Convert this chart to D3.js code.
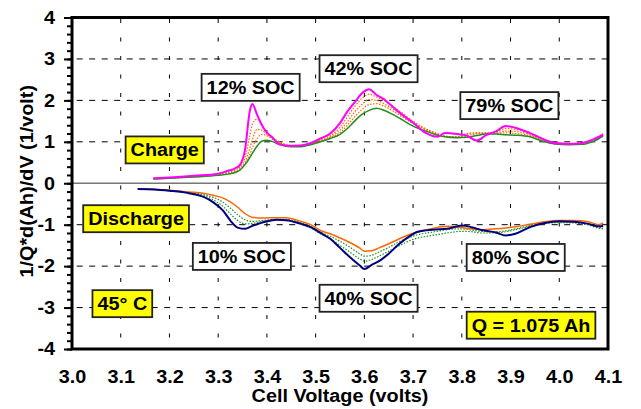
<!DOCTYPE html>
<html>
<head>
<meta charset="utf-8">
<script src="https://cdn.jsdelivr.net/npm/d3@7"></script>
<style>
  body { margin: 0; background: #fff; }
  svg { display: block; font-family: Arial, "Liberation Sans", sans-serif; }
  text { font-weight: bold; fill: #000; }
</style>
</head>
<body>
<div id="chart"></div>
<script>
// charge sweep, voltages (V)
const chargeV = [3.167, 3.2, 3.25, 3.3, 3.32, 3.335, 3.345, 3.355, 3.365, 3.37, 3.38, 3.39, 3.4, 3.41, 3.425,
  3.45, 3.47, 3.49, 3.51, 3.53, 3.55, 3.565, 3.58, 3.595, 3.61, 3.625, 3.64, 3.655, 3.675, 3.7, 3.725,
  3.75, 3.765, 3.79, 3.81, 3.83, 3.85, 3.87, 3.89, 3.91, 3.94, 3.97, 3.99, 4.02, 4.05, 4.07, 4.09];

// charge dQ/dV curves (1/volt)
const chargeRun1 = [0.12, 0.14, 0.18, 0.23, 0.30, 0.36, 0.45, 0.80, 1.75, 1.91, 1.65, 1.40, 1.22, 1.12, 0.94,
  0.90, 0.91, 0.97, 1.08, 1.20, 1.45, 1.73, 1.95, 2.17, 2.27, 2.13, 2.03, 1.88, 1.68, 1.46, 1.22,
  1.12, 1.21, 1.19, 1.15, 1.03, 1.16, 1.25, 1.38, 1.34, 1.21, 1.05, 0.97, 0.95, 0.98, 1.06, 1.17];
const chargeRun2 = [0.11, 0.13, 0.17, 0.22, 0.27, 0.32, 0.40, 0.62, 1.15, 1.42, 1.55, 1.38, 1.22, 1.12, 1.00,
  0.92, 0.92, 0.98, 1.06, 1.15, 1.35, 1.60, 1.85, 2.05, 2.15, 2.08, 2.00, 1.88, 1.72, 1.50, 1.32,
  1.20, 1.14, 1.12, 1.20, 1.22, 1.20, 1.24, 1.32, 1.30, 1.22, 1.05, 0.98, 0.96, 0.99, 1.07, 1.20];
const chargeRun3 = [0.11, 0.12, 0.16, 0.21, 0.25, 0.29, 0.36, 0.52, 0.85, 1.05, 1.30, 1.28, 1.18, 1.10, 0.98,
  0.90, 0.90, 0.96, 1.03, 1.12, 1.28, 1.48, 1.72, 1.90, 2.02, 2.00, 1.92, 1.82, 1.66, 1.46, 1.30,
  1.18, 1.13, 1.12, 1.18, 1.20, 1.22, 1.22, 1.26, 1.25, 1.18, 1.03, 0.97, 0.95, 0.97, 1.05, 1.18];
const chargeRun4 = [0.10, 0.12, 0.16, 0.20, 0.23, 0.27, 0.33, 0.47, 0.70, 0.85, 1.08, 1.18, 1.15, 1.07, 0.97,
  0.89, 0.89, 0.95, 1.02, 1.10, 1.22, 1.40, 1.60, 1.78, 1.90, 1.92, 1.86, 1.77, 1.62, 1.44, 1.30,
  1.18, 1.13, 1.11, 1.15, 1.19, 1.21, 1.20, 1.22, 1.20, 1.15, 1.02, 0.96, 0.94, 0.96, 1.04, 1.17];
const chargeRun5 = [0.10, 0.12, 0.15, 0.19, 0.22, 0.26, 0.32, 0.45, 0.62, 0.72, 0.90, 1.02, 1.04, 1.01, 0.94,
  0.88, 0.88, 0.93, 1.00, 1.08, 1.18, 1.32, 1.50, 1.66, 1.76, 1.81, 1.76, 1.68, 1.55, 1.38, 1.26,
  1.16, 1.12, 1.10, 1.11, 1.15, 1.19, 1.19, 1.17, 1.16, 1.12, 1.00, 0.95, 0.93, 0.94, 1.01, 1.14];

// discharge sweep, voltages (V)
const dischargeV = [3.135, 3.17, 3.2, 3.24, 3.27, 3.29, 3.31, 3.325, 3.34, 3.355, 3.37, 3.39, 3.42, 3.44,
  3.47, 3.49, 3.51, 3.53, 3.55, 3.57, 3.59, 3.6, 3.615, 3.63, 3.65, 3.67, 3.69, 3.71, 3.74, 3.77,
  3.8, 3.82, 3.84, 3.87, 3.89, 3.91, 3.94, 3.97, 4.0, 4.03, 4.06, 4.08, 4.09];

// discharge dQ/dV curves (1/volt)
const dischargeRun1 = [-0.14, -0.15, -0.18, -0.24, -0.33, -0.46, -0.66, -0.90, -1.07, -1.10, -1.03, -0.95, -0.88, -0.89,
  -0.98, -1.06, -1.20, -1.34, -1.56, -1.78, -1.98, -2.07, -1.97, -1.88, -1.70, -1.48, -1.30, -1.17, -1.12, -1.10,
  -1.02, -1.06, -1.13, -1.19, -1.26, -1.22, -1.06, -0.96, -0.92, -0.93, -0.98, -1.04, -1.03];
const dischargeRun2 = [-0.14, -0.15, -0.18, -0.23, -0.30, -0.40, -0.56, -0.74, -0.90, -0.98, -0.97, -0.92, -0.89, -0.90,
  -0.98, -1.08, -1.22, -1.34, -1.50, -1.66, -1.82, -1.88, -1.84, -1.76, -1.64, -1.52, -1.40, -1.32, -1.26, -1.20,
  -1.16, -1.17, -1.20, -1.20, -1.17, -1.12, -1.04, -0.97, -0.95, -0.96, -1.01, -1.08, -1.10];
const dischargeRun3 = [-0.14, -0.15, -0.17, -0.22, -0.27, -0.34, -0.46, -0.60, -0.76, -0.88, -0.92, -0.90, -0.87, -0.87,
  -0.95, -1.04, -1.18, -1.28, -1.40, -1.54, -1.70, -1.76, -1.74, -1.66, -1.55, -1.42, -1.32, -1.24, -1.18, -1.12,
  -1.10, -1.13, -1.16, -1.17, -1.15, -1.10, -1.02, -0.95, -0.93, -0.94, -0.98, -1.06, -1.08];
const dischargeRun4 = [-0.14, -0.15, -0.17, -0.21, -0.24, -0.29, -0.36, -0.45, -0.58, -0.73, -0.82, -0.84, -0.83, -0.83,
  -0.92, -1.00, -1.14, -1.22, -1.32, -1.43, -1.56, -1.64, -1.63, -1.56, -1.46, -1.35, -1.25, -1.17, -1.09, -1.04,
  -1.07, -1.10, -1.12, -1.10, -1.08, -1.05, -0.99, -0.93, -0.90, -0.90, -0.93, -1.00, -0.96];

// axis ticks
const xTicks = [3.0, 3.1, 3.2, 3.3, 3.4, 3.5, 3.6, 3.7, 3.8, 3.9, 4.0, 4.1];
const yTicks = [-4, -3, -2, -1, 0, 1, 2, 3, 4];
const yMinorTicks = d3.range(-20, 21).map(i => i / 5);

// text boxes, anchored at their top-left corner in data units
const notes = [
  {text: '12% SOC', v: 3.266, val: 2.64, fill: '#fff'},
  {text: '42% SOC', v: 3.508, val: 3.09, fill: '#fff'},
  {text: '79% SOC', v: 3.797, val: 2.20, fill: '#fff'},
  {text: 'Charge', v: 3.110, val: 1.13, fill: '#ffff00'},
  {text: 'Discharge', v: 3.023, val: -0.53, fill: '#ffff00'},
  {text: '10% SOC', v: 3.248, val: -1.44, fill: '#fff'},
  {text: '45° C', v: 3.042, val: -2.58, fill: '#ffff00'},
  {text: '40% SOC', v: 3.508, val: -2.45, fill: '#fff'},
  {text: '80% SOC', v: 3.810, val: -1.465, fill: '#fff'},
  {text: 'Q = 1.075 Ah', v: 3.810, val: -3.10, fill: '#ffff00'}
];

const W = 641, H = 409;
const FONT = 18;
const WIDEN = 1.1; // the original lettering runs a little wider than Arial
const x = d3.scaleLinear().domain([3.0, 4.1]).range([72, 608]);
const y = d3.scaleLinear().domain([-4, 4]).range([349, 17.5]);

// stretch glyphs horizontally
function widen(sel) {
  sel.each(function() {
    const len = this.getComputedTextLength();
    d3.select(this)
      .attr('textLength', len * WIDEN)
      .attr('lengthAdjust', 'spacingAndGlyphs');
  });
}

const svg = d3.select('#chart').append('svg')
  .attr('width', W)
  .attr('height', H);

// dashed grid
svg.append('g').selectAll('line')
  .data(xTicks.slice(1, -1))
  .enter().append('line')
  .attr('x1', d => x(d)).attr('x2', d => x(d))
  .attr('y1', y(4)).attr('y2', y(-4))
  .attr('stroke', '#000')
  .attr('stroke-width', 1)
  .attr('stroke-dasharray', '4 14.5')
  .attr('stroke-dashoffset', 17);

svg.append('g').selectAll('line')
  .data(yTicks.filter(d => d !== 0 && Math.abs(d) !== 4))
  .enter().append('line')
  .attr('x1', x(3.0)).attr('x2', x(4.1))
  .attr('y1', d => y(d)).attr('y2', d => y(d))
  .attr('stroke', '#000')
  .attr('stroke-width', 1)
  .attr('stroke-dasharray', '6 6.5')
  .attr('stroke-dashoffset', 7.8);

// zero line
svg.append('line')
  .attr('x1', x(3.0)).attr('x2', x(4.1))
  .attr('y1', y(0)).attr('y2', y(0))
  .attr('stroke', '#777')
  .attr('stroke-width', 1.5);

const line = d3.line()
  .x(d => x(d[0]))
  .y(d => y(d[1]))
  .curve(d3.curveMonotoneX);

const series = [
  {v: chargeV, values: chargeRun4, color: '#ff6600', width: 1.2, dash: '1.5 1.5'},
  {v: chargeV, values: chargeRun3, color: '#ff6600', width: 1.2, dash: '1.5 1.5'},
  {v: chargeV, values: chargeRun2, color: '#ff6600', width: 1.2, dash: '1.5 1.5'},
  {v: chargeV, values: chargeRun5, color: '#1f8f1f', width: 1.5, dash: null},
  {v: chargeV, values: chargeRun1, color: '#ff00ff', width: 2, dash: null},
  {v: dischargeV, values: dischargeRun3, color: '#1f8f1f', width: 1.2, dash: '1.5 1.5'},
  {v: dischargeV, values: dischargeRun2, color: '#1f8f1f', width: 1.2, dash: '1.5 1.5'},
  {v: dischargeV, values: dischargeRun4, color: '#ff6600', width: 1.5, dash: null},
  {v: dischargeV, values: dischargeRun1, color: '#000080', width: 2, dash: null}
];

svg.append('g').selectAll('path')
  .data(series)
  .enter().append('path')
  .attr('d', s => line(s.v.map((v, i) => [v, s.values[i]])))
  .attr('fill', 'none')
  .attr('stroke', s => s.color)
  .attr('stroke-width', s => s.width)
  .attr('stroke-dasharray', s => s.dash)
  .attr('stroke-linejoin', 'round');

// frame
svg.append('rect')
  .attr('x', x(3.0)).attr('y', y(4))
  .attr('width', x(4.1) - x(3.0))
  .attr('height', y(-4) - y(4))
  .attr('fill', 'none')
  .attr('stroke', '#000')
  .attr('stroke-width', 3);

// y axis, minor then major ticks
const yMinor = svg.append('g')
  .attr('transform', `translate(${x(3.0)},0)`)
  .call(d3.axisLeft(y).tickValues(yMinorTicks).tickSize(5).tickFormat(''));
yMinor.select('.domain').remove();
yMinor.selectAll('line').attr('stroke-width', 2);

const yMajor = svg.append('g')
  .attr('transform', `translate(${x(3.0)},0)`)
  .call(d3.axisLeft(y).tickValues(yTicks).tickSize(8).tickPadding(9).tickFormat(d => String(d)));
yMajor.select('.domain').remove();
yMajor.selectAll('line').attr('stroke-width', 2);
yMajor.selectAll('text')
  .attr('font-size', FONT)
  .attr('font-family', 'Arial, "Liberation Sans", sans-serif')
  .call(widen);

// x axis labels only
const xAxis = svg.append('g')
  .attr('transform', `translate(0,${y(-4)})`)
  .call(d3.axisBottom(x).tickValues(xTicks).tickSize(0).tickPadding(21).tickFormat(d3.format('.1f')));
xAxis.select('.domain').remove();
xAxis.selectAll('text')
  .attr('font-size', FONT)
  .attr('font-family', 'Arial, "Liberation Sans", sans-serif')
  .call(widen);

// axis titles
svg.append('text')
  .attr('x', (x(3.0) + x(4.1)) / 2)
  .attr('y', 402)
  .attr('text-anchor', 'middle')
  .attr('font-size', FONT)
  .text('Cell Voltage (volts)')
  .call(widen);

svg.append('text')
  .attr('transform', `translate(33,${(y(4) + y(-4)) / 2 - 2}) rotate(-90)`)
  .attr('text-anchor', 'middle')
  .attr('font-size', FONT)
  .text('1/Q*d(Ah)/dV (1/volt)')
  .call(widen);

// annotation boxes
const boxH = 27;
const noteG = svg.append('g').selectAll('g')
  .data(notes)
  .enter().append('g')
  .attr('transform', d => `translate(${x(d.v)},${y(d.val)})`);

noteG.append('rect')
  .attr('height', boxH)
  .attr('fill', d => d.fill)
  .attr('stroke', '#222')
  .attr('stroke-width', 1.8);

noteG.append('text')
  .attr('x', 5)
  .attr('y', boxH / 2)
  .attr('dy', '0.36em')
  .attr('font-size', FONT)
  .text(d => d.text)
  .call(widen);

noteG.each(function() {
  const g = d3.select(this);
  const w = +g.select('text').attr('textLength');
  g.select('rect').attr('width', w + 10);
});
</script>
</body>
</html>
